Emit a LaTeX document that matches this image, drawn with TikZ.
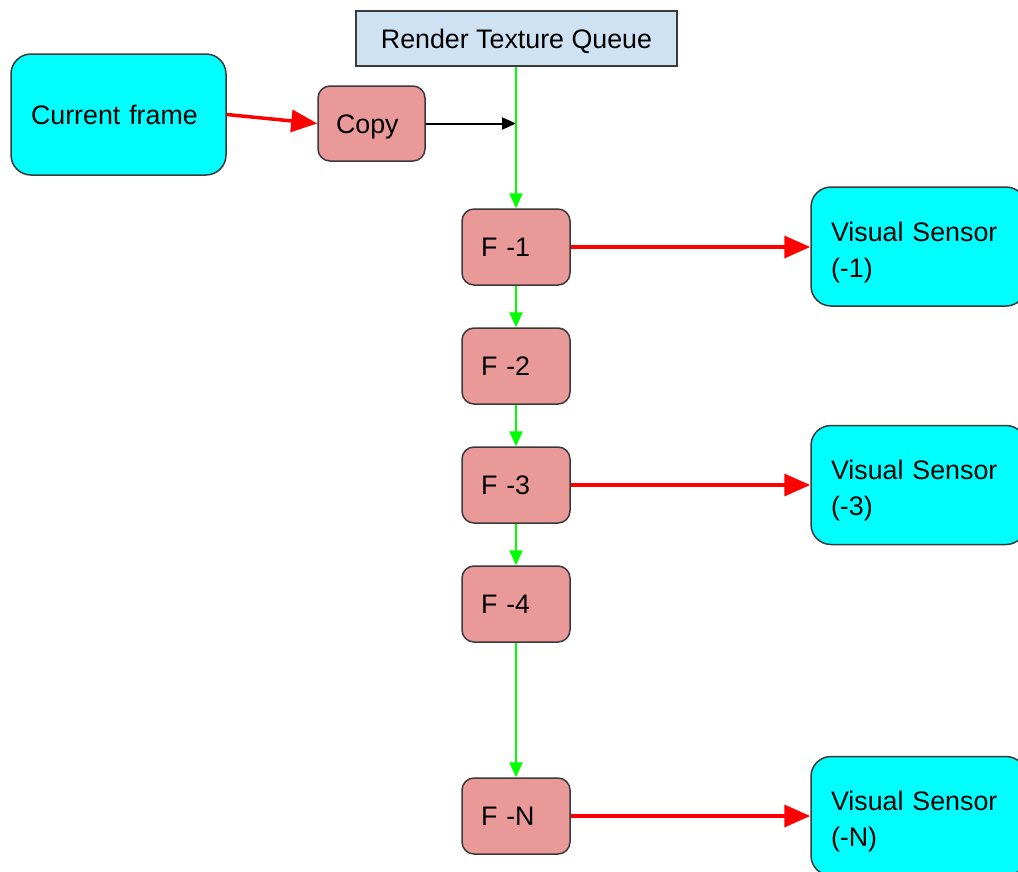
\documentclass[tikz,border=0pt]{standalone}
\usepackage{fontspec}
\setmainfont{Liberation Sans}
\usetikzlibrary{arrows.meta}
\definecolor{cyanbox}{HTML}{00FFFF}
\definecolor{slotbox}{HTML}{EA9999}
\definecolor{queuebox}{HTML}{CFE2F3}
\definecolor{edgegray}{HTML}{3A3A3A}
\definecolor{flowgreen}{HTML}{00FF00}
\definecolor{feedred}{HTML}{FF0000}
\tikzset{
  basebox/.style={draw=edgegray, line width=1.5pt, inner sep=0pt, align=left},
  oneline/.style={text height=19.5pt, text depth=0pt},
  bigbox/.style={basebox, fill=cyanbox, rounded corners=20pt, inner xsep=20pt, text width=175pt},
  slot/.style={basebox, oneline, fill=slotbox, rounded corners=12pt, inner xsep=19pt, text width=70pt, minimum height=76pt},
  queue/.style={basebox, oneline, fill=queuebox, align=center, minimum width=321pt, minimum height=55pt},
  greenflow/.style={draw=flowgreen, line width=2.2pt, -{Triangle[length=15pt,width=13pt]}},
  redfeed/.style={draw=feedred, line width=3.5pt, -{Triangle[length=26pt,width=22pt]}},
  blackfeed/.style={draw=black, line width=2pt, -{Triangle[length=14pt,width=12pt]}}
}
% taller first line so two-line labels sit a little lower in their boxes
\newcommand{\firstline}{\rule{0pt}{31.5pt}}
\begin{document}
\begin{tikzpicture}[x=1pt, y=-1pt, font=\fontsize{26.8}{36}\selectfont]
\useasboundingbox (0,0) rectangle (1018,871);
\clip (0,0) rectangle (1018,871);

% source, copy step and queue header
\node[bigbox, oneline, minimum height=121pt] (cf) at (118.5,114.5) {Current frame};
\node[basebox, oneline, fill=slotbox, rounded corners=12pt, inner xsep=18pt, text width=71pt, minimum height=75pt] (copy) at (371.5,123.5) {Copy};
\node[queue] (queue) at (516.5,38.5) {Render Texture Queue};

% queued frames
\node[slot] (f1) at (516,247) {F -1};
\node[slot] (f2) at (516,366) {F -2};
\node[slot] (f3) at (516,485) {F -3};
\node[slot] (f4) at (516,604) {F -4};
\node[slot] (fn) at (516,816) {F -N};

% sensors
\node[bigbox, minimum height=119pt] (s1) at (918.5,246.5) {\firstline Visual Sensor\\(-1)};
\node[bigbox, minimum height=119pt] (s3) at (918.5,485) {\firstline Visual Sensor\\(-3)};
\node[bigbox, minimum height=119pt] (sn) at (918.5,816) {\firstline Visual Sensor\\(-N)};

\coordinate (join) at (f1.north |- copy.east);

% connectors
\draw[redfeed] (cf.east) -- (copy.west);
\draw[blackfeed] (copy.east) -- (join);
\draw[greenflow] (queue.south -| f1.north) -- (f1.north);
\draw[greenflow] (f1) -- (f2);
\draw[greenflow] (f2) -- (f3);
\draw[greenflow] (f3) -- (f4);
\draw[greenflow] (f4) -- (fn);
\draw[redfeed] (f1.east) -- (s1.west |- f1.east);
\draw[redfeed] (f3.east) -- (s3.west |- f3.east);
\draw[redfeed] (fn.east) -- (sn.west |- fn.east);
\end{tikzpicture}
\end{document}
